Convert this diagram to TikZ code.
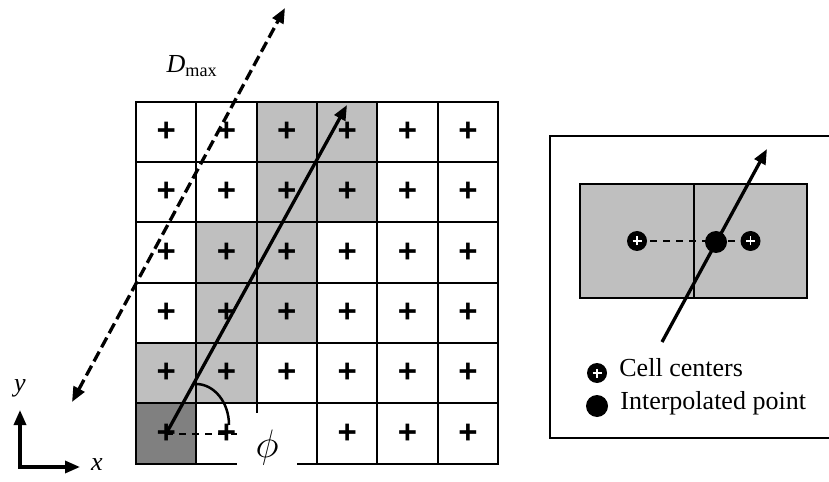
\documentclass[tikz,border=0pt]{standalone}
\usepackage{fontspec}
\setmainfont{Liberation Serif}
\newfontfamily\plusfont{Liberation Sans}
\usetikzlibrary{arrows.meta, positioning, calc, backgrounds}

\begin{document}
\begin{tikzpicture}[
    x=1bp, y=-1bp,
    font=\fontsize{26bp}{30bp}\selectfont,
    cell/.style={rectangle, draw, line width=2bp, minimum size=60.35bp, inner sep=0pt, font=\plusfont\bfseries\fontsize{33bp}{33bp}\selectfont},
    litcell/.style={fill=black!25},
    darkcell/.style={fill=black!50},
    bigcell/.style={rectangle, draw, line width=2bp, fill=black!25, minimum width=113.5bp, minimum height=114bp, inner sep=0pt},
    centermark/.style={circle, fill=black, minimum size=20bp, inner sep=0pt,
        path picture={\draw[white, line width=1.4bp]
            ([xshift=-4.5bp]path picture bounding box.center) -- ([xshift=4.5bp]path picture bounding box.center)
            ([yshift=-4.5bp]path picture bounding box.center) -- ([yshift=4.5bp]path picture bounding box.center);}},
    interp/.style={circle, fill=black, minimum size=22bp, inner sep=0pt},
    legendtext/.style={inner sep=0pt, anchor=west, text height=0.66em, text depth=0pt},
    arrow/.style={line width=3.3bp, -{Triangle[length=15bp, width=12bp]}},
    dmax/.style={line width=3.3bp, dash pattern=on 11bp off 5bp, {Triangle[length=15bp, width=12bp]}-{Triangle[length=15bp, width=12bp]}},
    axis/.style={line width=3.3bp, {Triangle[length=15bp, width=12bp]}-{Triangle[length=15bp, width=12bp]}},
    guide/.style={line width=2bp, dash pattern=on 7bp off 6bp}
]
\useasboundingbox (0,0) rectangle (829,482);

\foreach \r in {1,...,6}
  \foreach \c in {1,...,6}
    \node[cell] (c-\r-\c) at ({136+(\c-0.5)*60.35}, {101.7+(\r-0.5)*60.35}) {+};

\begin{scope}[on background layer]
\foreach \r/\c in {1/3,1/4,2/3,2/4,3/2,3/3,4/2,4/3,5/1,5/2}
  \fill[litcell] (c-\r-\c.south west) rectangle (c-\r-\c.north east);
\fill[darkcell] (c-6-1.south west) rectangle (c-6-1.north east);
\end{scope}

\node[fill=white, minimum width=60bp, minimum height=60bp, inner sep=0pt] (phi) at (267,442.5) {};
\node (philab) at (267,448) {\scalebox{1.6}{$\phi$}};
\draw[guide] (c-6-1.center) -- (c-6-1.center -| phi.west);
\coordinate (arcstart) at (196,384);
\draw[line width=2.5bp] (arcstart) arc[start angle=-90, end angle=0, x radius=33, y radius=41];

\coordinate (tip) at (347,105);
\draw[arrow] (c-6-1.center) -- (tip);

\coordinate (dlow) at (72,402);
\coordinate (dhigh) at (285,8);
\draw[dmax] (dlow) -- (dhigh);
\node (dlabel) at (192,66) {\textit{D}\textsubscript{max}};

\coordinate (ytip) at (20,410);
\coordinate (xtip) at (80,467);
\draw[axis] (ytip) |- (xtip);
\node (ylab) at (20,388) {\textit{y}};
\node (xlab) at (97,465) {\textit{x}};

\node[draw, line width=2bp, minimum width=281bp, minimum height=302bp, inner sep=0pt, anchor=north west] (panel) at (549,135) {};
\node[bigcell] (left) at (637,241) {};
\node[bigcell] (right) at (750.5,241) {};
\draw[guide] (left.center) -- (right.center);
\node[centermark] (mL) at (left) {};
\node[centermark] (mR) at (right) {};
\coordinate (ptail) at (662,342);
\coordinate (phead) at (767,149);
\draw[arrow] (ptail) -- (phead);
\node[interp] (ip) at (716,242) {};

\node[centermark] (keyC) at (597,373) {};
\node[legendtext, right=12bp of keyC] (keyCtext) {Cell centers};
\node[interp] (keyI) at (597,406) {};
\node[legendtext, right=12bp of keyI] (keyItext) {Interpolated point};
\end{tikzpicture}
\end{document}
